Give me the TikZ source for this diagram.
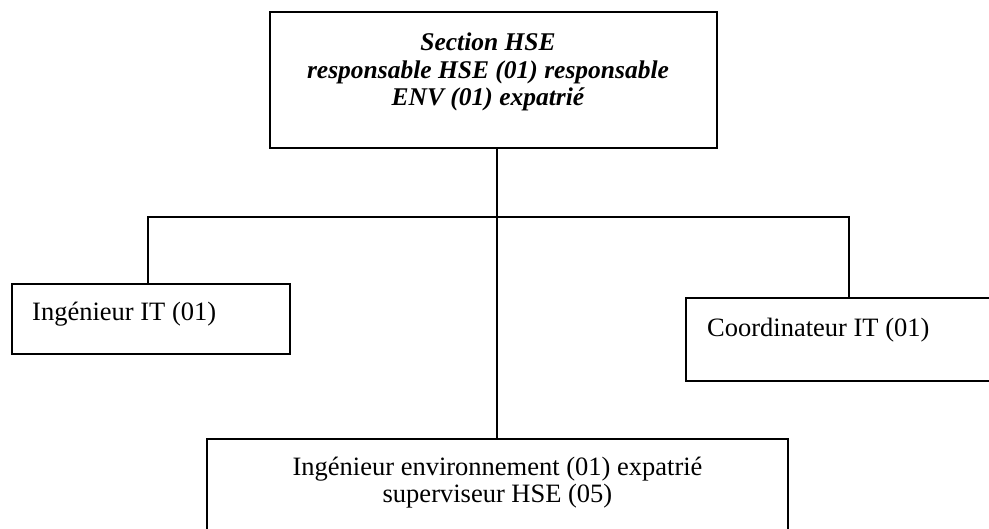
\documentclass[tikz,border=0pt]{standalone}
\usepackage{fontspec}
\setmainfont{Liberation Serif}
\begin{document}
\begin{tikzpicture}[x=1pt,y=-1pt,
  unit/.style={draw=black, line width=1.6pt, rectangle, inner sep=0pt},
  link/.style={draw=black, line width=1.5pt},
  caption/.style={inner sep=0pt, font=\fontsize{26.5}{28}\selectfont},
  headcaption/.style={inner sep=0pt, align=center, font=\fontsize{25.5}{27.5}\selectfont\bfseries\itshape}]
  \useasboundingbox (0,0) rectangle (989,529);

  % boxes of the chart
  \node[unit, minimum width=447pt, minimum height=136pt] (hse) at (493.5,80) {};
  \node[unit, minimum width=278pt, minimum height=70pt] (ing) at (151,319) {};
  \node[unit, minimum width=309pt, minimum height=83pt] (coord) at (840.5,339.5) {};
  \node[unit, minimum width=581pt, minimum height=101pt] (env) at (497.5,489.5) {};

  % labels (base anchor of a multi-line label sits on its last line)
  \node[headcaption, anchor=base] (hsetext) at (488,106)
    {Section HSE\\responsable HSE (01) responsable\\ENV (01) expatrié};
  \node[caption, anchor=base west] (ingtext) at (32,321) {Ingénieur IT (01)};
  \node[caption, anchor=base west] (coordtext) at (707,337) {Coordinateur IT (01)};
  \node[caption, anchor=base, align=center] (envtext) at (497.5,503)
    {Ingénieur environnement (01) expatrié\\superviseur HSE (05)};

  % branching connectors
  \coordinate (trunk) at (497,217);
  \coordinate (lbranch) at (148,217);
  \coordinate (rbranch) at (849,217);
  \draw[link] (trunk |- hse.south) -- (trunk |- env.north);
  \draw[link] (lbranch |- ing.north) -- (lbranch) -- (rbranch) -- (rbranch |- coord.north);
\end{tikzpicture}
\end{document}
